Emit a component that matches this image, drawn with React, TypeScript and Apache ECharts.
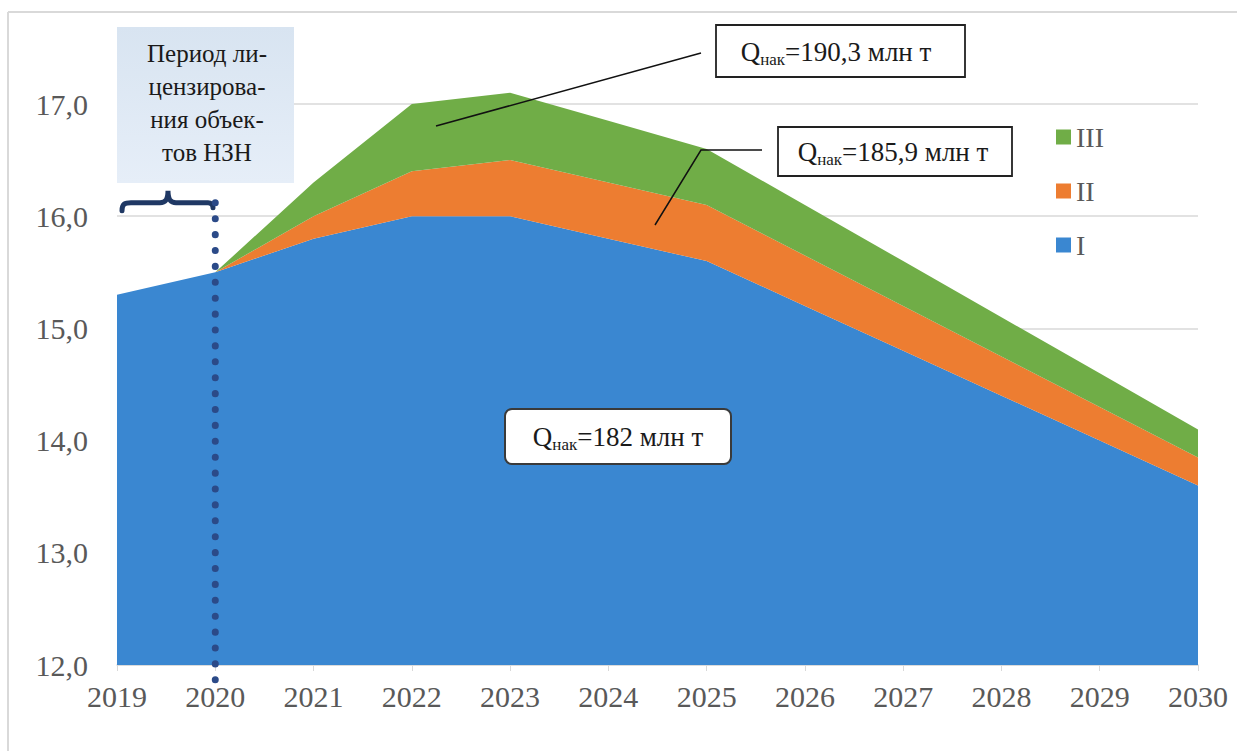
import React, { useEffect, useRef } from "react";
import * as echarts from "echarts";

// Years on the horizontal axis
const years = ["2019", "2020", "2021", "2022", "2023", "2024", "2025", "2026", "2027", "2028", "2029", "2030"];
// Production by group, stacked (I at the base, then II, then III)
const seriesI = [15.3, 15.5, 15.8, 16.0, 16.0, 15.8, 15.6, 15.2, 14.8, 14.4, 14.0, 13.6];
const seriesII = [0, 0, 0.2, 0.4, 0.5, 0.5, 0.5, 0.45, 0.4, 0.35, 0.3, 0.25];
const seriesIII = [0, 0, 0.3, 0.6, 0.6, 0.55, 0.5, 0.45, 0.4, 0.35, 0.3, 0.25];
const seriesNames = ["I", "II", "III"];
const legendOrder = ["III", "II", "I"];
const colors = ["#3a87d1", "#ed7d31", "#70ad47"];

const SERIF = "Liberation Serif";
const LABEL_GRAY = "#595959";

// Horizontal curly brace drawn under the licensing-period note
echarts.graphic.registerShape(
  "brace",
  echarts.graphic.extendPath(
    "M0,20 C0,13 3,12 9,12 L38,12 C44,12 46,8 46,0 C46,8 48,12 54,12 L86,12 C89,12 91,14 91,17",
    {}
  )
);

function qText(value: string) {
  return {
    text: `{q|Q}{s|нак}{q|=${value}}`,
    rich: {
      q: { fontFamily: SERIF, fontSize: 27, fill: "#1a1a1a", lineHeight: 32 },
      s: { fontFamily: SERIF, fontSize: 17, fill: "#1a1a1a", lineHeight: 32, verticalAlign: "bottom", padding: [10, 0, 0, 0] },
    },
  };
}

export default function App() {
  const ref = useRef<HTMLDivElement>(null);

  useEffect(() => {
    if (!ref.current) return;
    const chart = echarts.init(ref.current, null, { renderer: "svg" });
    const values = [seriesI, seriesII, seriesIII];

    chart.setOption({
      animation: false,
      backgroundColor: "#ffffff",
      textStyle: { fontFamily: SERIF },
      grid: { left: 117, right: 39, top: 104, bottom: 86 },
      legend: {
        data: legendOrder,
        orient: "vertical",
        left: 1051,
        top: 118,
        icon: "rect",
        itemWidth: 15,
        itemHeight: 15,
        itemGap: 26,
        textStyle: { fontFamily: SERIF, fontSize: 28, color: LABEL_GRAY },
      },
      xAxis: {
        type: "category",
        data: years,
        boundaryGap: false,
        axisLine: { lineStyle: { color: "#d9d9d9", width: 1.5 } },
        axisTick: { show: true, length: 6, lineStyle: { color: "#d9d9d9" } },
        axisLabel: { fontFamily: SERIF, fontSize: 30, color: LABEL_GRAY, margin: 16 },
      },
      yAxis: {
        type: "value",
        min: 12,
        max: 17,
        interval: 1,
        axisLine: { show: false },
        axisTick: { show: false },
        splitLine: { lineStyle: { color: "#d9d9d9", width: 1.5 } },
        axisLabel: {
          fontFamily: SERIF,
          fontSize: 30,
          color: LABEL_GRAY,
          margin: 29,
          formatter: (v: number) => v.toFixed(1).replace(".", ","),
        },
      },
      series: values.map((data, i) => ({
        name: seriesNames[i],
        type: "line",
        stack: "total",
        data,
        clip: false,
        symbol: "none",
        lineStyle: { width: 0 },
        areaStyle: { color: colors[i], opacity: 1 },
        itemStyle: { color: colors[i] },
        z: 2,
      })),
    });

    const px = (x: string, y: number) => chart.convertToPixel({ gridIndex: 0 }, [x, y]) as number[];
    const y2020 = px("2020", 16.12);
    const axisBottom = px("2020", 12);
    const brace = px("2019", 16.12);

    chart.setOption({
      graphic: [
        // outer frame (top and left edges)
        { type: "line", z: 50, shape: { x1: 8, y1: 12, x2: 1237, y2: 12 }, style: { stroke: "#d9d9d9", lineWidth: 2 } },
        { type: "line", z: 50, shape: { x1: 8, y1: 12, x2: 8, y2: 751 }, style: { stroke: "#d9d9d9", lineWidth: 2 } },
        // licensing period note
        {
          type: "rect",
          z: 50,
          shape: { x: 117, y: 27, width: 177, height: 156 },
          style: {
            fill: new echarts.graphic.LinearGradient(0, 0, 0, 1, [
              { offset: 0, color: "#d8e4f1" },
              { offset: 1, color: "#e6eef8" },
            ]),
          },
        },
        {
          type: "text",
          z: 51,
          x: 207,
          y: 37,
          style: {
            text: "Период ли-\nцензирова-\nния объек-\nтов НЗН",
            fontFamily: SERIF,
            fontSize: 25,
            lineHeight: 33,
            fill: "#1a1a1a",
            align: "center",
            verticalAlign: "top",
          },
        },
        {
          type: "brace",
          z: 52,
          x: brace[0] + 5,
          y: y2020[1] - 12,
          style: { stroke: "#1f3864", lineWidth: 5, fill: "none", lineCap: "round" },
        },
        {
          type: "line",
          z: 52,
          shape: { x1: y2020[0], y1: y2020[1], x2: y2020[0], y2: axisBottom[1] + 16 },
          style: { stroke: "#2b4a88", lineWidth: 7, lineDash: [0.1, 15.8], lineCap: "round" },
        },
        // leader lines
        {
          type: "line",
          z: 52,
          shape: { x1: 436, y1: 126, x2: 701, y2: 53 },
          style: { stroke: "#111", lineWidth: 1.5 },
        },
        {
          type: "polyline",
          z: 52,
          shape: { points: [[655, 225], [701, 150], [762, 150]] },
          style: { stroke: "#111", lineWidth: 1.5, fill: "none" },
        },
        // callout boxes
        {
          type: "rect",
          z: 52,
          shape: { x: 716, y: 25, width: 249, height: 52 },
          style: { fill: "#ffffff", stroke: "#222", lineWidth: 1.8 },
        },
        {
          type: "text",
          z: 53,
          x: 836,
          y: 52,
          style: { ...qText("190,3 млн т"), align: "center", verticalAlign: "middle" },
        },
        {
          type: "rect",
          z: 52,
          shape: { x: 778, y: 127, width: 234, height: 49 },
          style: { fill: "#ffffff", stroke: "#222", lineWidth: 1.8 },
        },
        {
          type: "text",
          z: 53,
          x: 893,
          y: 152,
          style: { ...qText("185,9 млн т"), align: "center", verticalAlign: "middle" },
        },
        {
          type: "rect",
          z: 52,
          shape: { x: 505, y: 409, width: 226, height: 55, r: 7 },
          style: { fill: "#ffffff", stroke: "#3a3a3a", lineWidth: 2 },
        },
        {
          type: "text",
          z: 53,
          x: 618,
          y: 437,
          style: { ...qText("182 млн т"), align: "center", verticalAlign: "middle" },
        },
      ],
    });

    return () => chart.dispose();
  }, []);

  return (
    <div
      ref={ref}
      style={{ position: "fixed", left: 0, top: 0, width: 1237, height: 751 }}
    />
  );
}
